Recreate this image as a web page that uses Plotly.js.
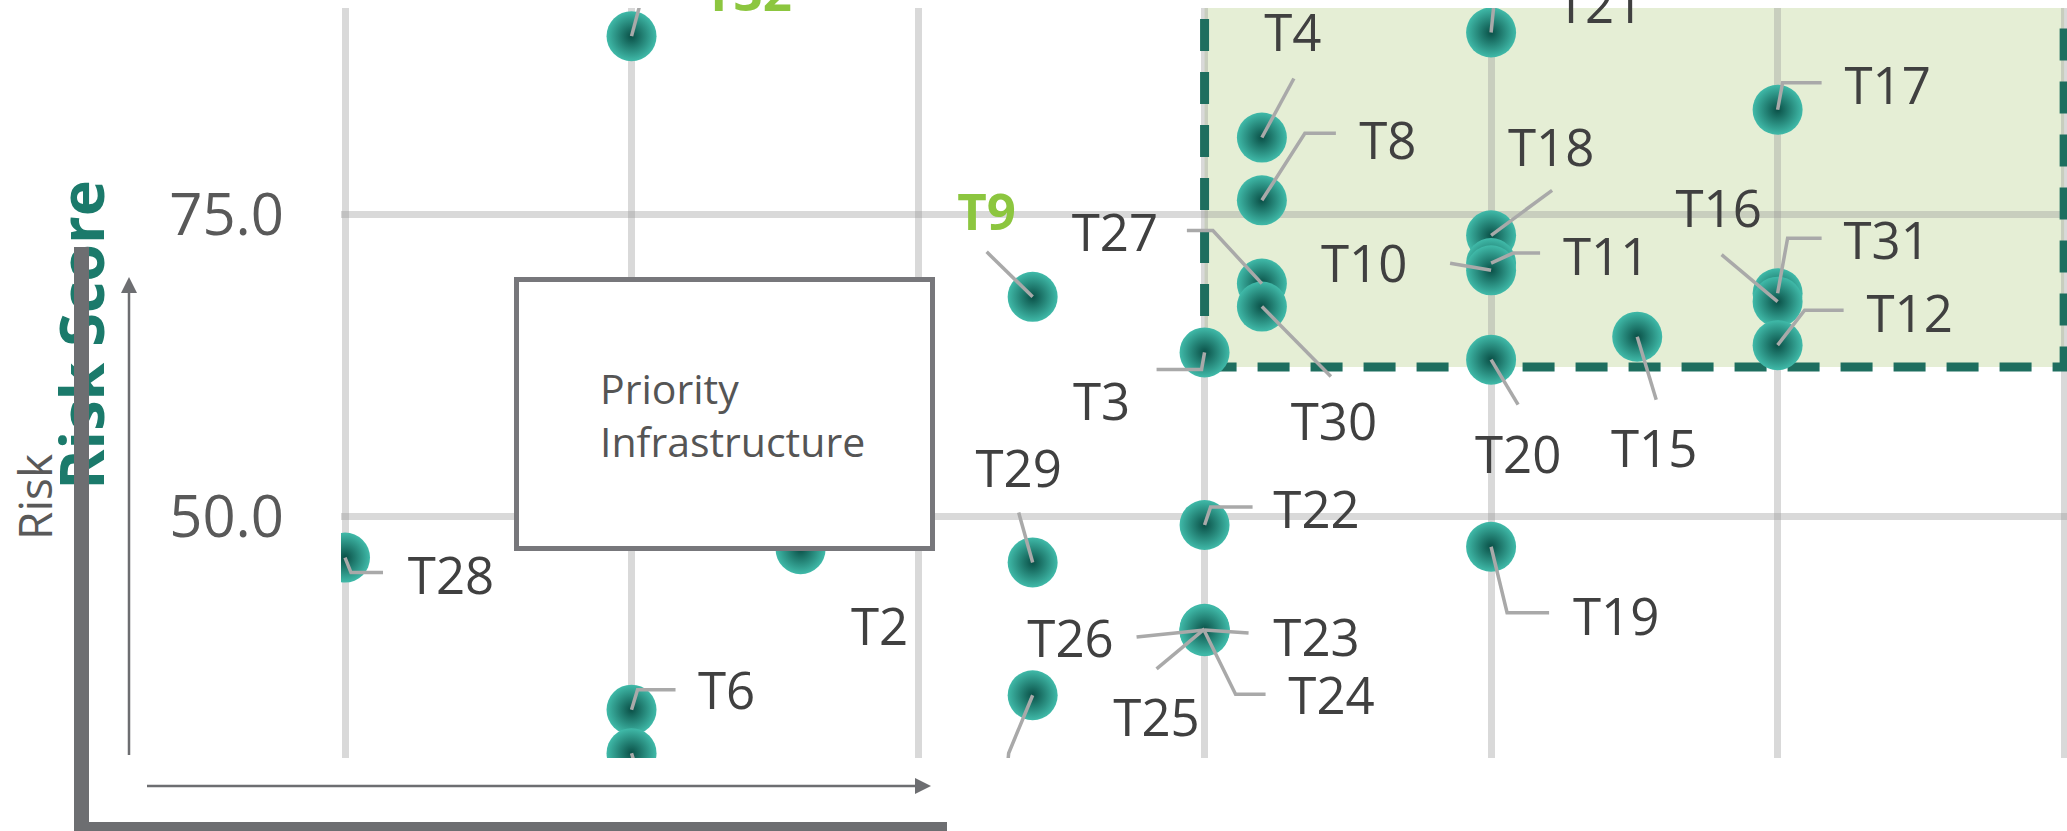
<!DOCTYPE html>
<html><head><meta charset="utf-8">
<script src="https://cdn.plot.ly/plotly-3.0.1.min.js"></script>
<style>html,body{margin:0;padding:0;background:#fff;overflow:hidden}</style>
</head><body><div id="chart" style="width:2067px;height:831px"></div>
<script>
// ---------------- data ----------------
const tasks = ['T28','T32','T6','T13','T2','T9','T29','T7','T3','T22','T23','T24','T25','T26','T4','T8','T27','T30','T21','T18','T11','T10','T20','T19','T15','T17','T31','T16','T12'];
const xValues = [0,1,1,1,1.59,2.4,2.4,2.4,3,3,3,3,3,3,3.2,3.2,3.2,3.2,4,4,4,4,4,4,4.51,5,5,5,5];
const riskScores = [46.6,89.8,34.0,30.4,47.3,68.2,46.2,35.2,63.6,49.3,40.6,40.5,40.7,40.6,81.4,76.2,69.3,67.4,90.1,73.3,71.0,70.4,63.0,47.5,64.9,83.7,68.5,67.8,64.2];
const highlighted = ['T9','T32'];
const yTickValues = [50, 75];
const priorityZoneX = [3, 6];
const priorityZoneY = [62.4, 100];
const boxText = ['Priority', 'Infrastructure'];
const yTitle = 'Risk Score';
const sideText = 'Risk';

// ---------------- layout geometry (pixels) ----------------
const W = 2067, H = 831;
const M = {l: 341, r: 0, t: 8, b: 73};
const plotW = W - M.l - M.r, plotH = H - M.t - M.b;
const xRange = [-0.014, 6.01], yRange = [30, 92.13];
const pxX = plotW / (xRange[1] - xRange[0]);
const pxY = plotH / (yRange[1] - yRange[0]);
const toPx = x => M.l + (x - xRange[0]) * pxX;
const toPy = y => M.t + (yRange[1] - y) * pxY;
const PX = px => (px - M.l) / plotW;       // pixel -> paper x
const PY = py => 1 - (py - M.t) / plotH;   // pixel -> paper y
const LABEL_SHIFT = 6;                     // text box vs glyph centre correction

// label offsets [dx,dy] and leader elbows, in pixels relative to the point
const labelLayout = {
  T28:{d:[106,18], p:[[6,15],[38,15]]},
  T32:{d:[116,-51], p:[[12,-45]]},
  T6:{d:[95,-19], p:[[6,-20],[44,-20]]},
  T13:{d:[102,11], p:[[6,20],[44,20]]},
  T2:{d:[79,77], p:[[0,-30]]},
  T9:{d:[-46,-86], p:[[-46,-45]]},
  T29:{d:[-14,-94], p:[[-14,-50]]},
  T7:{d:[-29,105], p:[[-24,58],[-26,80]]},
  T3:{d:[-103,49], p:[[-3,17],[-48,17]]},
  T22:{d:[112,-16], p:[[6,-18],[48,-18]]},
  T23:{d:[112,7], p:[[44,3]]},
  T24:{d:[127,64], p:[[31,63],[61,63]]},
  T25:{d:[-48,88], p:[[-48,40]]},
  T26:{d:[-134,8], p:[[-68,7]]},
  T4:{d:[31,-105], p:[[32,-59]]},
  T8:{d:[126,-60], p:[[43,-67],[74,-67]]},
  T27:{d:[-147,-51], p:[[-49,-53],[-75,-53]]},
  T30:{d:[72,115], p:[[69,70]]},
  T21:{d:[109,-28], p:[[4,-40]]},
  T18:{d:[60,-88], p:[[61,-45]]},
  T11:{d:[115,-7], p:[[22,-10],[49,-10]]},
  T10:{d:[-127,-7], p:[[-41,-7]]},
  T20:{d:[27,95], p:[[27,45]]},
  T19:{d:[125,69], p:[[16,66],[58,66]]},
  T15:{d:[17,112], p:[[19,63]]},
  T17:{d:[110,-25], p:[[5,-27],[44,-27]]},
  T31:{d:[109,-53], p:[[10,-55],[44,-55]]},
  T16:{d:[-59,-93], p:[[-56,-47]]},
  T12:{d:[132,-32], p:[[27,-35],[66,-35]]}
};

const FONT = 'Open Sans, Noto Sans, DejaVu Sans, sans-serif';
const labelColor = '#404040', greenLabel = '#8cc63f';

// leader lines
const lx = [], ly = [];
tasks.forEach((t, i) => {
  const L = labelLayout[t];
  lx.push(xValues[i]); ly.push(riskScores[i]);
  L.p.forEach(pt => { lx.push(xValues[i] + pt[0] / pxX); ly.push(riskScores[i] - pt[1] / pxY); });
  lx.push(null); ly.push(null);
});

// labels: groups (clipped near bottom edge / free / highlighted); labels above the plot -> annotations
const groups = {clip:{x:[],y:[],t:[]}, free:{x:[],y:[],t:[]}, hi:{x:[],y:[],t:[]}};
const topLabelAnns = [];
tasks.forEach((t, i) => {
  const L = labelLayout[t];
  const dy = L.d[1] + LABEL_SHIFT;
  const py = toPy(riskScores[i]) + dy;
  const color = highlighted.includes(t) ? greenLabel : labelColor;
  const weight = highlighted.includes(t) ? 700 : 400;
  if (py < M.t + 2) {
    topLabelAnns.push({xref:'paper', yref:'paper', x:PX(toPx(xValues[i]) + L.d[0]), y:PY(py),
      xanchor:'center', yanchor:'middle', showarrow:false, text:t,
      font:{family:FONT, size:51, color:color, weight:weight}});
    return;
  }
  let g = (py + 20 > H - M.b) ? groups.clip : groups.free;
  if (highlighted.includes(t)) g = groups.hi;
  g.x.push(xValues[i] + L.d[0] / pxX);
  g.y.push(riskScores[i] - dy / pxY);
  g.t.push(t);
});
const textTrace = (g, clip, color, weight) => ({
  type:'scatter', mode:'text', x:g.x, y:g.y, text:g.t, cliponaxis:clip,
  textposition:'middle center', hoverinfo:'skip',
  textfont:{family:FONT, size:51, color:color, weight:weight}
});

const traces = [
  {type:'scatter', mode:'markers', x:xValues, y:riskScores, text:tasks, hoverinfo:'text',
   cliponaxis:true,
   marker:{size:50, color:'#40baa9', gradient:{type:'radial', color:'#0a5047'},
           line:{width:0}}},
  {type:'scatter', mode:'lines', x:lx, y:ly, hoverinfo:'skip',
   line:{color:'#a9a9a9', width:3.5}},
  textTrace(groups.free, false, labelColor, 400),
  textTrace(groups.clip, true, labelColor, 400),
  textTrace(groups.hi, false, greenLabel, 700)
];

const gray = '#6d6e71';
const shapes = [
  {type:'rect', xref:'x', yref:'y', x0:priorityZoneX[0], x1:priorityZoneX[1], y0:priorityZoneY[0], y1:priorityZoneY[1],
   fillcolor:'#e5eed5', line:{width:0}, layer:'below'},
  {type:'rect', xref:'x', yref:'y', x0:priorityZoneX[0], x1:priorityZoneX[1], y0:priorityZoneY[0], y1:priorityZoneY[1],
   fillcolor:'rgba(0,0,0,0)', line:{color:'#1e6e5f', width:9, dash:'32px,21px'}, layer:'between'},
  // Priority Infrastructure box
  {type:'rect', xref:'paper', yref:'paper', x0:PX(516.5), x1:PX(932.5), y0:PY(548.5), y1:PY(279.5),
   fillcolor:'#ffffff', line:{color:'#77777b', width:5}, layer:'above'},
  // Risk Score title (as shape label so the bar can cover it)
  {type:'rect', xref:'paper', yref:'paper', x0:PX(58), x1:PX(110), y0:PY(496), y1:PY(174),
   fillcolor:'rgba(0,0,0,0)', line:{width:0}, layer:'above',
   label:{text:'<b>' + yTitle + '</b>', textangle:-90, textposition:'middle center',
          font:{family:FONT, size:61, color:'#1b7a6b'}}},
  // thick L bar
  {type:'path', xref:'paper', yref:'paper', layer:'above',
   path:`M${PX(81.5)},${PY(247)} L${PX(81.5)},${PY(829.5)} L${PX(947)},${PY(829.5)}`,
   line:{color:gray, width:15}, fillcolor:'rgba(0,0,0,0)'},
  // thin vertical arrow
  {type:'line', xref:'paper', yref:'paper', layer:'above', x0:PX(129), x1:PX(129), y0:PY(755), y1:PY(292),
   line:{color:gray, width:2.5}},
  {type:'path', xref:'paper', yref:'paper', layer:'above',
   path:`M${PX(121)},${PY(293)} L${PX(137)},${PY(293)} L${PX(129)},${PY(277)} Z`,
   fillcolor:gray, line:{width:0}},
  // thin horizontal arrow
  {type:'line', xref:'paper', yref:'paper', layer:'above', x0:PX(147), x1:PX(916), y0:PY(786), y1:PY(786),
   line:{color:gray, width:2.5}},
  {type:'path', xref:'paper', yref:'paper', layer:'above',
   path:`M${PX(915)},${PY(778)} L${PX(915)},${PY(794)} L${PX(931)},${PY(786)} Z`,
   fillcolor:gray, line:{width:0}}
];

const annotations = [
  {xref:'paper', yref:'paper', x:PX(34), y:PY(497), xanchor:'center', yanchor:'middle',
   text:sideText, showarrow:false, textangle:-90,
   font:{family:FONT, size:46, color:'#595959'}},
  {xref:'paper', yref:'paper', x:PX(598), y:PY(414), xanchor:'left', yanchor:'middle', align:'left',
   text:boxText.join('<br>'), showarrow:false, font:{family:FONT, size:41, color:'#555555'}}
].concat(topLabelAnns);

const grid = 'rgba(150,150,150,0.36)';
const layout = {
  width:W, height:H, margin:M, paper_bgcolor:'#ffffff', plot_bgcolor:'#ffffff', showlegend:false,
  font:{family:FONT},
  xaxis:{range:xRange, tick0:0, dtick:1, showgrid:true, gridcolor:grid, gridwidth:7, zeroline:false,
         showticklabels:false, ticks:'', showline:false, fixedrange:true},
  yaxis:{range:yRange, tickvals:yTickValues, ticktext:yTickValues.map(v => v.toFixed(1)),
         showgrid:true, gridcolor:grid, gridwidth:7, zeroline:false, ticks:'', showline:false,
         ticklabelstandoff:56, tickfont:{family:FONT, size:58, color:'#595959'}, fixedrange:true},
  shapes:shapes, annotations:annotations
};

Plotly.newPlot('chart', traces, layout, {displayModeBar:false, staticPlot:true});
</script></body></html>
